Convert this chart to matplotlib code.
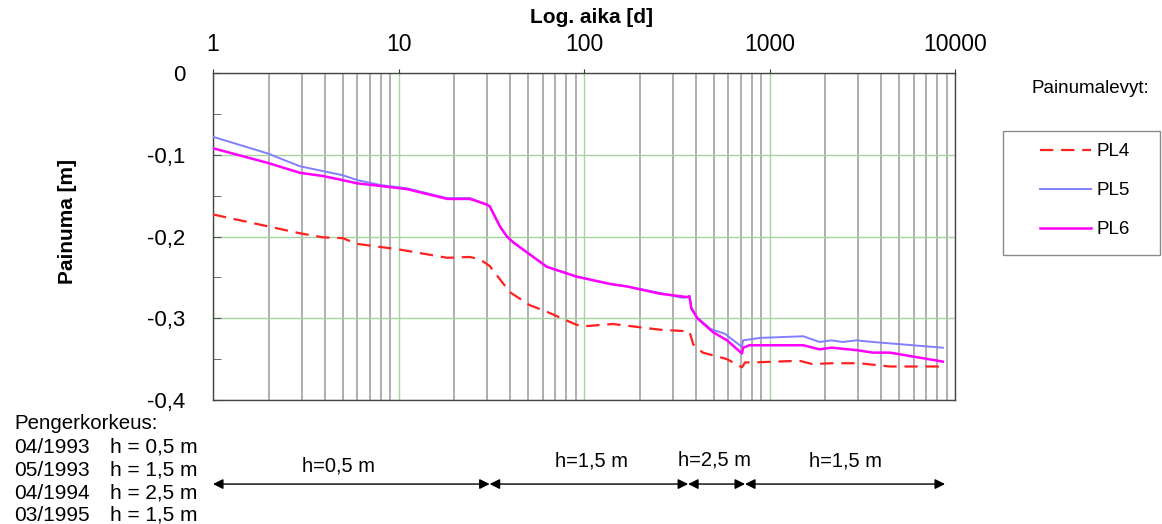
import matplotlib
matplotlib.use("Agg")
import matplotlib.pyplot as plt
from matplotlib.patches import Rectangle
from matplotlib.ticker import LogLocator, NullFormatter

plt.rcParams['font.family'] = ['Liberation Sans', 'DejaVu Sans']

# settlement plates, time in days, settlement in metres
t_pl4 = [1, 2.94, 3.92, 5.0, 6.0, 10.2, 18.3, 24.3, 27.5, 31, 39.8, 51, 63, 89, 97,
         143, 257, 370, 388, 437, 590, 710, 738, 815, 1450, 1700, 2160, 3050, 4450, 8600]
pl4 = [-0.173, -0.196, -0.201, -0.202, -0.209, -0.216, -0.226, -0.225, -0.228, -0.236,
       -0.268, -0.284, -0.292, -0.307, -0.310, -0.307, -0.314, -0.316, -0.332, -0.342,
       -0.350, -0.360, -0.354, -0.354, -0.352, -0.356, -0.355, -0.355, -0.359, -0.359]

t_pl5 = [1, 1.95, 2.94, 5.0, 6.0, 8.0, 11.1, 18.3, 24.3, 30, 31, 35.3, 38.4, 41.5, 49,
         63, 91, 138, 170, 257, 340, 370, 379, 408, 480, 575, 710, 720, 890, 1520,
         1860, 2160, 2470, 2950, 3600, 8600]
pl5 = [-0.078, -0.098, -0.114, -0.125, -0.131, -0.137, -0.141, -0.153, -0.153, -0.161,
       -0.163, -0.188, -0.200, -0.207, -0.219, -0.237, -0.249, -0.258, -0.261, -0.269,
       -0.275, -0.274, -0.287, -0.299, -0.313, -0.319, -0.335, -0.327, -0.324, -0.322,
       -0.329, -0.327, -0.329, -0.327, -0.329, -0.336]

t_pl6 = [1, 1.98, 2.94, 3.92, 5.0, 6.0, 7.9, 10.2, 11.1, 18.3, 24.3, 30, 31, 35.3, 38.4,
         41.5, 49, 63, 91, 138, 170, 257, 359, 370, 379, 408, 496, 590, 710, 720, 780,
         1520, 1860, 2160, 2950, 3600, 4450, 8600]
pl6 = [-0.092, -0.110, -0.122, -0.126, -0.131, -0.135, -0.138, -0.141, -0.142, -0.154,
       -0.154, -0.161, -0.163, -0.188, -0.200, -0.207, -0.219, -0.237, -0.249, -0.258,
       -0.261, -0.270, -0.274, -0.273, -0.288, -0.300, -0.317, -0.327, -0.343, -0.336,
       -0.333, -0.333, -0.338, -0.336, -0.339, -0.342, -0.342, -0.353]

# embankment height periods (start / end day)
stage_bounds = [(1, 31), (31, 364), (364, 738), (738, 8830)]
stage_labels = ['h=0,5 m', 'h=1,5 m', 'h=2,5 m', 'h=1,5 m']
stage_text_x = [4.72, 110, 508, 2553]
stage_text_y = [-0.202, -0.187, -0.183, -0.187]

history_dates = ['04/1993', '05/1993', '04/1994', '03/1995']
history_heights = ['h = 0,5 m', 'h = 1,5 m', 'h = 2,5 m', 'h = 1,5 m']

x_ticks = [1, 10, 100, 1000, 10000]
y_ticks = [0, -0.1, -0.2, -0.3, -0.4]
y_tick_labels = ['0', '-0,1', '-0,2', '-0,3', '-0,4']

fig = plt.figure(figsize=(11.62, 5.24), dpi=100)
ax = fig.add_axes([0.1833, 0.2366, 0.6386, 0.6240])

ax.set_xscale('log')
ax.set_xlim(1, 10000)
ax.set_ylim(-0.4, 0)

# grid: grey lines inside each decade, green at the decades and y steps
ax.set_xticks(x_ticks)
ax.set_xticklabels([str(v) for v in x_ticks])
ax.xaxis.set_minor_locator(LogLocator(base=10, subs=range(2, 10)))
ax.xaxis.set_minor_formatter(NullFormatter())
ax.set_yticks(y_ticks)
ax.set_yticklabels(y_tick_labels)
ax.set_yticks([-0.05, -0.15, -0.25, -0.35], minor=True)
ax.grid(which='minor', axis='x', color='#a8a8a8', lw=1.3)
ax.grid(which='major', axis='both', color='#a6d3a0', lw=1.0)
ax.set_axisbelow(True)

ax.xaxis.tick_top()
ax.tick_params(axis='x', which='major', direction='out', length=3, pad=9,
               labelsize=16.5, color='#333333', top=True, bottom=False)
ax.tick_params(axis='x', which='minor', length=0)
ax.tick_params(axis='y', which='both', direction='in', length=6, pad=20,
               labelsize=16, color='#555555')
for sp in ax.spines.values():
    sp.set_color('#444444')
    sp.set_linewidth(1.0)

l5, = ax.plot(t_pl5, pl5, color='#8080ff', lw=1.4, label='PL5', zorder=3)
l6, = ax.plot(t_pl6, pl6, color='#ff00ff', lw=1.8, label='PL6', zorder=4)
l4, = ax.plot(t_pl4, pl4, color='#ff2020', lw=1.6, dashes=(6, 3.5), label='PL4', zorder=5)

# loading stage arrows below the plot
xt = ax.get_xaxis_transform()
for (a, b), lab, tx, ty in zip(stage_bounds, stage_labels, stage_text_x, stage_text_y):
    ax.annotate('', xy=(b, -0.257), xytext=(a, -0.257), xycoords=xt, textcoords=xt,
                annotation_clip=False,
                arrowprops=dict(arrowstyle='<|-|>', color='black', lw=1.0,
                                mutation_scale=15, shrinkA=0, shrinkB=0))
    ax.text(tx, ty, lab, transform=xt, ha='center', va='center', fontsize=14.5,
            clip_on=False)

fig.text(0.509, 0.966, 'Log. aika [d]', ha='center', va='center',
         fontsize=15, fontweight='bold')
fig.text(0.0585, 0.578, 'Painuma [m]', ha='center', va='center', rotation=90,
         fontsize=15, fontweight='bold')

fig.text(0.012, 0.191, 'Pengerkorkeus:', ha='left', va='center', fontsize=14.8)
for i, (d, h) in enumerate(zip(history_dates, history_heights)):
    yy = [0.146, 0.103, 0.059, 0.017][i]
    fig.text(0.012, yy, d, ha='left', va='center', fontsize=15)
    fig.text(0.0947, yy, h, ha='left', va='center', fontsize=15)

# legend
fig.text(0.938, 0.832, 'Painumalevyt:', ha='center', va='center', fontsize=13.5)
fig.patches.append(Rectangle((0.8632, 0.5134), 0.1351, 0.2366, transform=fig.transFigure,
                             fill=False, edgecolor='#8a8a8a', lw=1.0))
fig.legend([l4, l5, l6], ['PL4', 'PL5', 'PL6'], loc='upper left',
           bbox_to_anchor=(0.895, 0.727), frameon=False, fontsize=13.5,
           handlelength=2.7, handletextpad=0.3, labelspacing=1.17,
           borderpad=0, borderaxespad=0)

fig.savefig('out.png', dpi=100)
